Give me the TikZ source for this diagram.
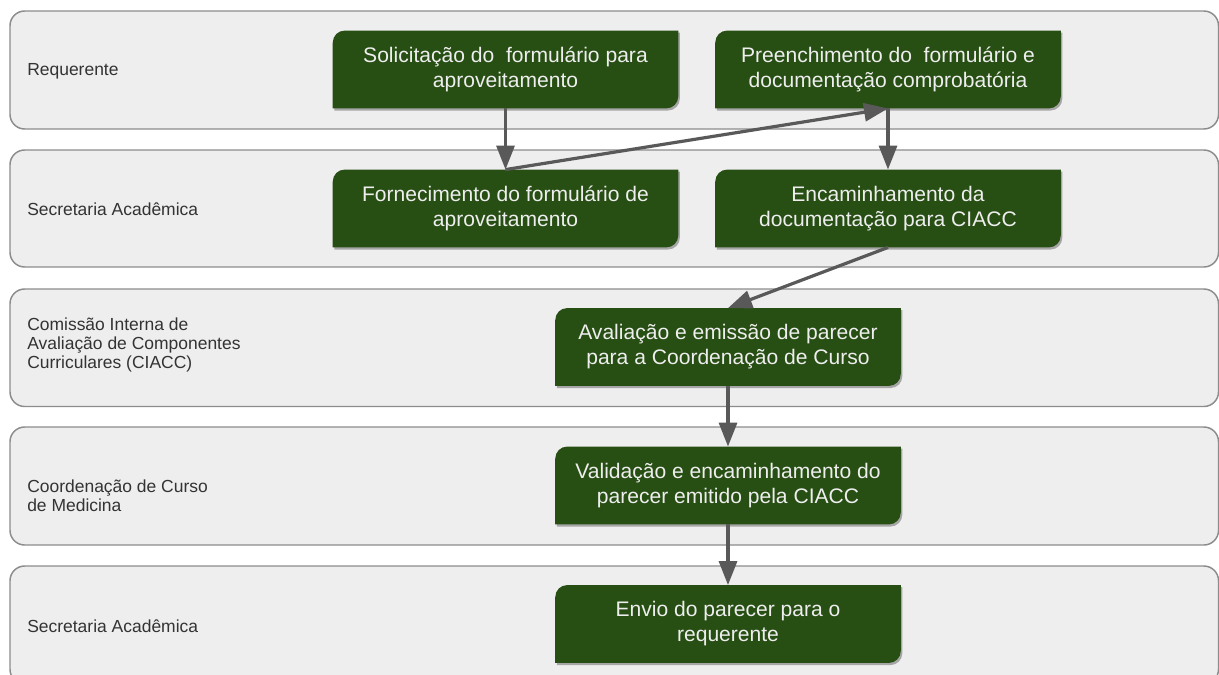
\documentclass[tikz,border=0pt]{standalone}
\usepackage{fontspec}
\setmainfont{Liberation Sans}
\usetikzlibrary{arrows.meta}

\definecolor{verde}{HTML}{274E13}
\definecolor{faixa}{HTML}{EEEEEE}
\definecolor{borda}{HTML}{8C8C8C}
\definecolor{cinza}{HTML}{595959}
\definecolor{rotulo}{HTML}{333333}

\pgfdeclarelayer{fundo}
\pgfsetlayers{fundo,main}

\tikzset{
  raia/.style={draw=borda, fill=faixa, line width=1.1pt, rounded corners=11pt},
  nomeraia/.style={anchor=west, align=left, inner sep=0pt, text=rotulo,
    font=\fontsize{13.1pt}{14.3pt}\selectfont},
  etapa/.style={minimum width=258.75pt, minimum height=58pt, inner sep=0pt,
    align=center, text=faixa, font=\fontsize{15.8pt}{18.8pt}\selectfont},
  seta/.style={draw=cinza, line width=2.4pt, -{Triangle[length=18pt,width=13.5pt]}}
}

% caixa verde com dois cantos arredondados (sup. esq. e inf. dir.)
\newcommand\cantos[2]{%
  \fill[#2] ([yshift=-9pt]#1.north west)
    .. controls ([yshift=-4pt]#1.north west) and ([xshift=4pt]#1.north west) .. ([xshift=9pt]#1.north west)
    -- (#1.north east) -- ([yshift=9pt]#1.south east)
    .. controls ([yshift=4pt]#1.south east) and ([xshift=-4pt]#1.south east) .. ([xshift=-9pt]#1.south east)
    -- (#1.south west) -- cycle;}

\begin{document}
\begin{tikzpicture}[x=0.75pt, y=-0.75pt]
  \useasboundingbox (0,0) rectangle (1219,674);

  % raias
  \begin{pgfonlayer}{fundo}
  \draw[raia] (10,11) rectangle (1218.5,129);
  \draw[raia] (10,150) rectangle (1218.5,267);
  \draw[raia] (10,289) rectangle (1218.5,406.5);
  \draw[raia] (10,427) rectangle (1218.5,545);
  \draw[raia] (10,566) rectangle (1218.5,684);
  \end{pgfonlayer}

  \node[nomeraia] (r1) at (27,71) {Requerente};
  \node[nomeraia] (r2) at (27,209) {Secretaria Acadêmica};
  \node[nomeraia] (r3) at (27,345) {Comissão Interna de\\Avaliação de Componentes\\Curriculares (CIACC)};
  \node[nomeraia] (r4) at (27,496) {Coordenação de Curso\\de Medicina};
  \node[nomeraia] (r5) at (27,626) {Secretaria Acadêmica};

  % etapas
  \node[etapa] (sol) at (505.5,69.5) {Solicitação do~ formulário para\\aproveitamento};
  \node[etapa] (pre) at (888,69.5) {Preenchimento do~ formulário e\\documentação comprobatória};
  \node[etapa] (for) at (505.5,208.5) {Fornecimento do formulário de\\aproveitamento};
  \node[etapa] (enc) at (888,208.5) {Encaminhamento da\\documentação para CIACC};
  \node[etapa] (ava) at (728,347) {Avaliação e emissão de parecer\\para a Coordenação de Curso};
  \node[etapa] (val) at (728,485.5) {Validação e encaminhamento do\\parecer emitido pela CIACC};
  \node[etapa] (env) at (728,624) {Envio do parecer para o\\requerente};

  \begin{pgfonlayer}{fundo}
  \begin{scope}[transform canvas={shift={(1.2pt,-1.6pt)}}, opacity=0.3]
    \cantos{sol}{black}
    \cantos{pre}{black}
    \cantos{for}{black}
    \cantos{enc}{black}
    \cantos{ava}{black}
    \cantos{val}{black}
    \cantos{env}{black}
  \end{scope}
  \cantos{sol}{verde}
  \cantos{pre}{verde}
  \cantos{for}{verde}
  \cantos{enc}{verde}
  \cantos{ava}{verde}
  \cantos{val}{verde}
  \cantos{env}{verde}
  \end{pgfonlayer}

  % fluxo
  \draw[seta] (sol.south) -- (for.north);
  \draw[seta] (for.north) -- (pre.south);
  \draw[seta] (pre.south) -- (enc.north);
  \draw[seta] (enc.south) -- (ava.north);
  \draw[seta] (ava.south) -- (val.north);
  \draw[seta] (val.south) -- (env.north);
\end{tikzpicture}
\end{document}
